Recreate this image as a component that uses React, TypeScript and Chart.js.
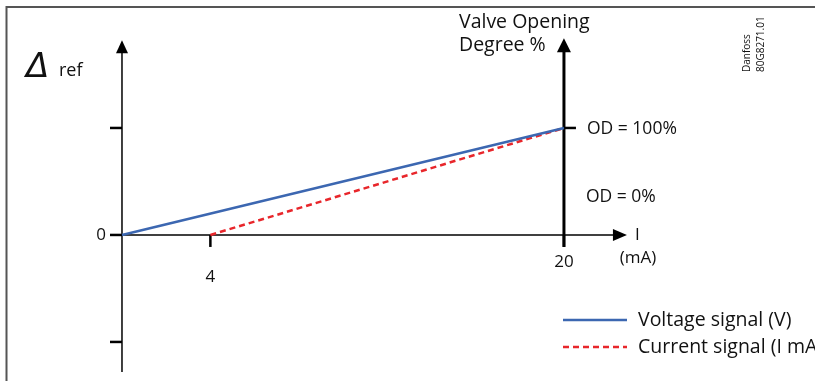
import React, { useEffect, useRef } from "react";
import { Chart, registerables } from "chart.js";

Chart.register(...registerables);

// ---- data ----
const voltageX = [0, 20];
const voltageY = [0, 1];
const currentX = [4, 20];
const currentY = [0, 1];
const xTickValues = [4, 20];
const xTickLabels = ["4", "20"];
const yTickValues = [-1, 0, 1];
const seriesNames = ["Voltage signal (V)", "Current signal (I mA)"];
const seriesColors = ["#3c67b1", "#e8262b"];
const odLabels = ["OD = 100%", "OD = 0%"];

const FONT = "'Open Sans', 'Noto Sans', sans-serif";

export default function App() {
  const ref = useRef<HTMLCanvasElement | null>(null);

  useEffect(() => {
    const canvas = ref.current;
    if (!canvas) return;

    const diagram = {
      id: "diagram",
      beforeDatasetsDraw(chart: any) {
        const ctx = chart.ctx;
        const xs = chart.scales.x;
        const ys = chart.scales.y;
        const px = (v: number) => xs.getPixelForValue(v);
        const py = (v: number) => ys.getPixelForValue(v);
        ctx.save();
        // frame
        ctx.strokeStyle = "#555";
        ctx.lineWidth = 2;
        ctx.beginPath();
        ctx.moveTo(6.5, 381);
        ctx.lineTo(6.5, 7);
        ctx.lineTo(815, 7);
        ctx.stroke();

        ctx.strokeStyle = "#000";
        ctx.fillStyle = "#000";
        const x0 = px(0);
        const y0 = py(0);
        const yTop = py(1.82);
        // left axis
        ctx.lineWidth = 1.5;
        ctx.beginPath();
        ctx.moveTo(x0, py(-1.28));
        ctx.lineTo(x0, yTop + 10);
        ctx.stroke();
        ctx.beginPath();
        ctx.moveTo(x0, yTop);
        ctx.lineTo(x0 - 6, yTop + 13);
        ctx.lineTo(x0 + 6, yTop + 13);
        ctx.closePath();
        ctx.fill();
        // y ticks
        ctx.lineWidth = 2.5;
        yTickValues.forEach((v) => {
          ctx.beginPath();
          ctx.moveTo(x0 - 12, py(v));
          ctx.lineTo(x0, py(v));
          ctx.stroke();
        });
        // x axis
        const xEnd = px(22.85);
        ctx.lineWidth = 1.5;
        ctx.beginPath();
        ctx.moveTo(x0, y0);
        ctx.lineTo(xEnd - 10, y0);
        ctx.stroke();
        ctx.beginPath();
        ctx.moveTo(xEnd, y0);
        ctx.lineTo(xEnd - 14, y0 - 6);
        ctx.lineTo(xEnd - 14, y0 + 6);
        ctx.closePath();
        ctx.fill();
        // x ticks
        ctx.lineWidth = 2.5;
        xTickValues.forEach((v) => {
          ctx.beginPath();
          ctx.moveTo(px(v), y0);
          ctx.lineTo(px(v), y0 + 12);
          ctx.stroke();
        });
        // right axis (valve opening)
        const xr = px(20);
        ctx.lineWidth = 3;
        ctx.beginPath();
        ctx.moveTo(xr, y0 + 12);
        ctx.lineTo(xr, yTop + 10);
        ctx.stroke();
        ctx.beginPath();
        ctx.moveTo(xr, yTop - 2);
        ctx.lineTo(xr - 7, yTop + 12);
        ctx.lineTo(xr + 7, yTop + 12);
        ctx.closePath();
        ctx.fill();
        ctx.lineWidth = 2.5;
        ctx.beginPath();
        ctx.moveTo(xr, py(1));
        ctx.lineTo(xr + 12, py(1));
        ctx.stroke();
        ctx.restore();
      },
      afterDraw(chart: any) {
        const ctx = chart.ctx;
        const xs = chart.scales.x;
        const ys = chart.scales.y;
        const px = (v: number) => xs.getPixelForValue(v);
        const py = (v: number) => ys.getPixelForValue(v);
        ctx.save();
        ctx.fillStyle = "#111";
        ctx.textBaseline = "middle";
        ctx.font = `17px ${FONT}`;
        // tick labels
        ctx.textAlign = "right";
        ctx.fillText("0", px(0) - 16, py(0));
        ctx.textAlign = "center";
        ctx.fillText(xTickLabels[0], px(xTickValues[0]), py(0) + 42);
        ctx.fillText(xTickLabels[1], px(xTickValues[1]), py(0) + 27);
        // axis name
        ctx.textAlign = "left";
        ctx.fillText("I", px(22.85) + 8, py(0));
        ctx.textAlign = "center";
        ctx.fillText("(mA)", px(22.85) + 11, py(0) + 23);
        // OD labels
        ctx.textAlign = "left";
        ctx.font = `17.5px ${FONT}`;
        ctx.fillText(odLabels[0], px(20) + 23, py(1) + 1);
        ctx.fillText(odLabels[1], px(20) + 22, py(0.35));
        // valve opening title
        ctx.font = `19.5px ${FONT}`;
        ctx.fillText("Valve Opening", 459, 22);
        ctx.fillText("Degree %", 459, 45);
        // delta ref
        ctx.font = `italic 34px 'DejaVu Sans', sans-serif`;
        ctx.textBaseline = "alphabetic";
        ctx.fillText("Δ", 26, 77);
        ctx.font = `18px ${FONT}`;
        ctx.fillText("ref", 59, 76);
        // legend
        ctx.textBaseline = "middle";
        const ly = [320, 347];
        seriesNames.forEach((name, i) => {
          ctx.strokeStyle = seriesColors[i];
          ctx.lineWidth = 2.5;
          ctx.setLineDash(i === 1 ? [6, 4] : []);
          ctx.beginPath();
          ctx.moveTo(563, ly[i]);
          ctx.lineTo(627, ly[i]);
          ctx.stroke();
          ctx.setLineDash([]);
          ctx.fillStyle = "#111";
          ctx.font = `19.5px ${FONT}`;
          ctx.fillText(name, 638, ly[i]);
        });
        // Danfoss ref
        ctx.save();
        ctx.translate(754, 72);
        ctx.rotate(-Math.PI / 2);
        ctx.font = `10px ${FONT}`;
        ctx.textAlign = "left";
        ctx.fillText("Danfoss", 0, -7);
        ctx.fillText("80G8271.01", 0, 7);
        ctx.restore();
        ctx.restore();
      },
    };

    const chart = new Chart(canvas, {
      type: "line",
      data: {
        datasets: [
          {
            label: seriesNames[0],
            data: voltageX.map((x, i) => ({ x, y: voltageY[i] })),
            borderColor: seriesColors[0],
            borderWidth: 2.5,
            pointRadius: 0,
            fill: false,
          },
          {
            label: seriesNames[1],
            data: currentX.map((x, i) => ({ x, y: currentY[i] })),
            borderColor: seriesColors[1],
            borderWidth: 2.5,
            borderDash: [6, 4],
            pointRadius: 0,
            fill: false,
          },
        ],
      },
      options: {
        responsive: false,
        animation: false,
        layout: { padding: 0 },
        plugins: { legend: { display: false }, tooltip: { enabled: false } },
        scales: {
          x: { type: "linear", min: -5.52, max: 31.36, display: false },
          y: { type: "linear", min: -1.365, max: 2.196, display: false },
        },
      },
      plugins: [diagram],
    });
    return () => chart.destroy();
  }, []);

  return (
    <div style={{ position: "fixed", left: 0, top: 0, width: 815, height: 381, background: "#fff" }}>
      <canvas ref={ref} width={815} height={381} />
    </div>
  );
}
